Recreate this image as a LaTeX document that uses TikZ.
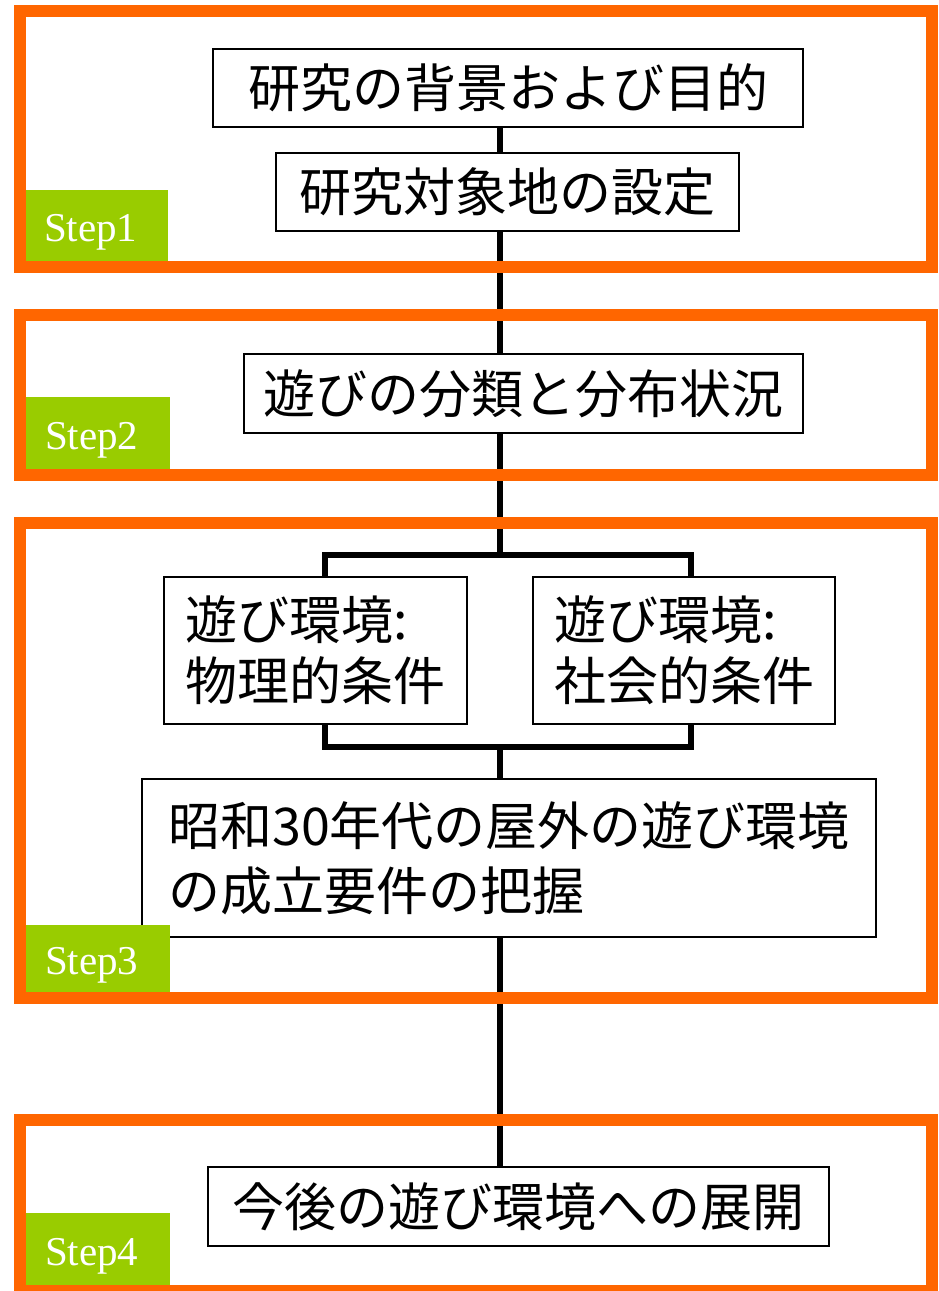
\documentclass[tikz,border=0pt]{standalone}
\usepackage{fontspec}
\setmainfont{Liberation Serif}
\newfontfamily\jp{Noto Sans CJK JP}
\definecolor{frameor}{HTML}{FF6600}
\definecolor{stepgr}{HTML}{99CC00}
\begin{document}
\begin{tikzpicture}[x=1pt,y=-1pt,
  box/.style={draw=black, line width=2pt, fill=white, inner sep=0pt, font=\jp\fontsize{52}{61}\selectfont, align=left},
  spine/.style={line width=6.5pt, black},
  forkline/.style={line width=6pt, black},
  stepframe/.style={draw=frameor, line width=12pt},
  steplabel/.style={fill=stepgr, text=white, inner sep=0pt, minimum width=144pt, font=\fontsize{41}{41}\selectfont, text width=106pt, align=left, text height=32pt, text depth=0pt}]
\useasboundingbox (0,0) rectangle (938,1291);
\clip (0,0) rectangle (938,1291);
\fill[white] (0,0) rectangle (938,1291);
% boxes
\node[box, minimum width=590pt, minimum height=78pt] (b1) at (508,88) {研究の背景および目的};
\node[box, minimum width=463pt, minimum height=78pt] (b2) at (507.5,192) {研究対象地の設定};
\node[box, minimum width=559pt, minimum height=79pt] (b3) at (523.5,393.5) {遊びの分類と分布状況};
\node[box, minimum width=303pt, minimum height=147pt] (lbox) at (315.5,650.5) {遊び環境:\\物理的条件};
\node[box, minimum width=302pt, minimum height=147pt] (rbox) at (684,650.5) {遊び環境:\\社会的条件};
\node[box, minimum width=734pt, minimum height=158pt, font=\jp\fontsize{52}{65}\selectfont] (big) at (509,858) {昭和30年代の屋外の遊び環境\\の成立要件の把握};
\node[box, minimum width=621pt, minimum height=79pt] (b4) at (518.5,1206.5) {今後の遊び環境への展開};
% connectors
\coordinate (spx) at (500,0);
\coordinate (fl) at (325,0);
\coordinate (fr) at (691,0);
\coordinate (ftop) at (500,555);
\coordinate (fbot) at (500,746.5);
\draw[spine] (b1.south -| spx) -- (b2.north -| spx);
\draw[spine] (b2.south -| spx) -- (b3.north -| spx);
\draw[spine] (b3.south -| spx) -- (ftop);
\draw[forkline] (lbox.north -| fl) -- (fl |- ftop) -- (fr |- ftop) -- (rbox.north -| fr);
\draw[forkline] (lbox.south -| fl) -- (fl |- fbot) -- (fr |- fbot) -- (rbox.south -| fr);
\draw[spine] (fbot) -- (big.north -| spx);
\draw[spine] (big.south -| spx) -- (b4.north -| spx);
% step frames
\draw[stepframe] (20,11) rectangle (932,267);
\draw[stepframe] (20,315) rectangle (932,475);
\draw[stepframe] (20,523) rectangle (932,998);
\draw[stepframe] (20,1119.5) rectangle (932,1291);
% step labels
\node[steplabel, minimum width=142pt, minimum height=71pt] (s1) at (97,225.5) {Step1};
\node[steplabel, minimum height=72pt] (s2) at (98,433) {Step2};
\node[steplabel, minimum height=67pt] (s3) at (98,958.5) {Step3};
\node[steplabel, minimum height=72pt] (s4) at (98,1249) {Step4};
\end{tikzpicture}
\end{document}
